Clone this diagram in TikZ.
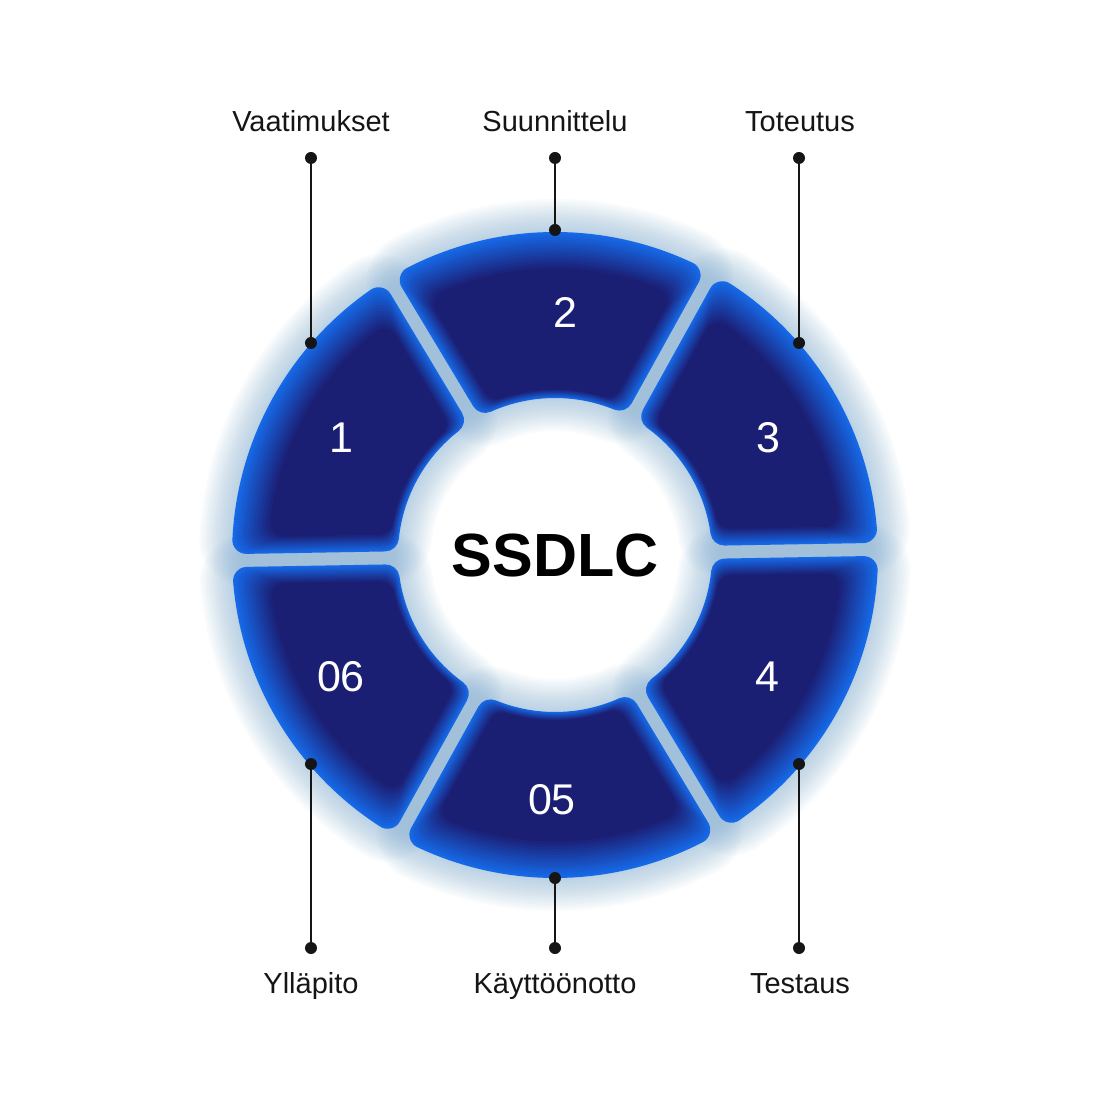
\documentclass[tikz,border=0pt]{standalone}
\usepackage{fontspec}
\setmainfont{Liberation Sans}
\definecolor{navy}{HTML}{1B1F74}
\definecolor{brightblue}{HTML}{1668E6}
\definecolor{glowblue}{HTML}{78A8D0}
\definecolor{ink}{HTML}{151515}
\def\Rout{323}
\def\Rin{157}
\def\gap{13}
\def\rc{14}
% sector path inset by #3 (outer arc), #4 (sides), #5 (inner arc)
\newcommand\seglayer[6]{%
  \pgfmathsetmacro\sgRo{\Rout-#3}%
  \pgfmathsetmacro\sgRi{\Rin+#5}%
  \pgfmathsetmacro\sgH{\gap/2+#4}%
  \pgfmathsetmacro\sgAo{asin(\sgH/\sgRo)}%
  \pgfmathsetmacro\sgAi{asin(\sgH/\sgRi)}%
  \pgfmathsetmacro\sgA{#1+\sgAo}\pgfmathsetmacro\sgB{#2-\sgAo}%
  \pgfmathsetmacro\sgC{#2-\sgAi}\pgfmathsetmacro\sgD{#1+\sgAi}%
  \path[#6] (\sgA:\sgRo pt) arc[start angle=\sgA, end angle=\sgB, radius=\sgRo pt]
     -- (\sgC:\sgRi pt) arc[start angle=\sgC, end angle=\sgD, radius=\sgRi pt] -- cycle;
}
\newcommand\glowseg[2]{%
  \foreach \e in {1,3,...,33}{%
    \pgfmathsetmacro\lw{2*(\rc+\e)}%
    \seglayer{#1}{#2}{\rc}{\rc}{\rc}{draw=glowblue, draw opacity=0.034, line width=\lw pt, line join=round}%
  }%
}
\newcommand\drawseg[2]{%
  \seglayer{#1}{#2}{\rc}{\rc}{\rc}{fill=brightblue, draw=brightblue, line width=28pt, line join=round}%
  \foreach \k in {1,...,14}{%
    \pgfmathsetmacro\dO{\rc+2.6*\k}%
    \pgfmathsetmacro\dS{\rc+1.2*\k}%
    \pgfmathsetmacro\dI{\rc+0.6*\k}%
    \pgfmathtruncatemacro\pc{round(100*\k/14)}%
    \seglayer{#1}{#2}{\dO}{\dS}{\dI}{fill=navy!\pc!brightblue, draw=navy!\pc!brightblue, line width=28pt, line join=round}%
  }%
}
\tikzset{
  dot/.style={circle, fill=ink, inner sep=0pt, minimum size=12pt},
  conn/.style={draw=ink, line width=2pt},
  phase/.style={text=ink, font=\fontsize{29}{34}\selectfont, anchor=base},
  num/.style={text=white, font=\fontsize{43}{50}\selectfont},
  title/.style={text=black, font=\fontsize{61}{70}\selectfont\bfseries}
}
\begin{document}
\begin{tikzpicture}[x=1pt, y=1pt]
\useasboundingbox (-555,-555) rectangle (555,555);
\fill[white] (-555,-555) rectangle (555,555);
% glow
\glowseg{1}{61}
\glowseg{61}{121}
\glowseg{121}{181}
\glowseg{181}{241}
\glowseg{241}{301}
\glowseg{301}{361}
% segments
\drawseg{1}{61}
\drawseg{61}{121}
\drawseg{121}{181}
\drawseg{181}{241}
\drawseg{241}{301}
\drawseg{301}{361}
% numbers
\node[num] (n1) at (-214,117) {1};
\node[num] (n2) at (10,243) {2};
\node[num] (n3) at (213,117) {3};
\node[num] (n4) at (212,-122) {4};
\node[num] (n5) at (-3,-245) {05};
\node[num] (n6) at (-214,-122) {06};
\node[title] (ttl) at (0,-1) {SSDLC};
% labels
\node[phase] (l1) at (-244,423) {Vaatimukset};
\node[phase] (l2) at (0,423) {Suunnittelu};
\node[phase] (l3) at (245,423) {Toteutus};
\node[phase] (l6) at (-244,-438) {Ylläpito};
\node[phase] (l5) at (0,-438) {Käyttöönotto};
\node[phase] (l4) at (245,-438) {Testaus};
% connectors
\node[dot] (a1) at (-244,397) {};
\node[dot] (b1) at (-244,212) {};
\node[dot] (a2) at (0,397) {};
\node[dot] (b2) at (0,325) {};
\node[dot] (a3) at (244,397) {};
\node[dot] (b3) at (244,212) {};
\node[dot] (a6) at (-244,-393) {};
\node[dot] (b6) at (-244,-209) {};
\node[dot] (a5) at (0,-393) {};
\node[dot] (b5) at (0,-323) {};
\node[dot] (a4) at (244,-393) {};
\node[dot] (b4) at (244,-209) {};
\draw[conn] (a1.center) -- (b1.center);
\draw[conn] (a2.center) -- (b2.center);
\draw[conn] (a3.center) -- (b3.center);
\draw[conn] (a6.center) -- (b6.center);
\draw[conn] (a5.center) -- (b5.center);
\draw[conn] (a4.center) -- (b4.center);
\end{tikzpicture}
\end{document}
